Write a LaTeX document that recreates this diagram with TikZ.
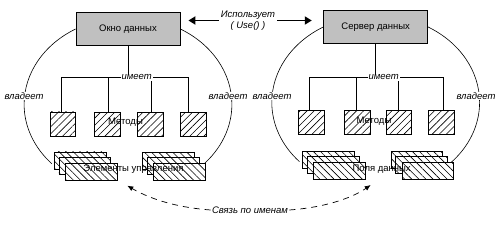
\documentclass[tikz,border=0pt]{standalone}
\usepackage{fontspec}
\setmainfont{Liberation Sans}
\usetikzlibrary{arrows.meta,patterns.meta}
\definecolor{boxgray}{HTML}{C0C0C0}
\begin{document}
\begin{tikzpicture}[x=1pt,y=-1pt, line width=0.8pt,
  font=\fontsize{9.5}{10.7}\selectfont,
  mainbox/.style={draw, fill=boxgray, minimum width=104pt, minimum height=33.5pt, inner sep=0pt},
  hsq/.style={draw, anchor=north west, preaction={fill=white}, pattern={Lines[angle=45,distance=5pt,line width=0.6pt]}, minimum width=25.5pt, minimum height=24pt, inner sep=0pt},
  hst/.style={draw, anchor=north west, preaction={fill=white}, pattern={Lines[angle=-45,distance=5pt,line width=0.6pt]}, minimum width=51.7pt, minimum height=17.5pt, inner sep=0pt},
  lbl/.style={font=\fontsize{9.5}{10.7}\selectfont\itshape, fill=white, inner sep=1pt},
  txt/.style={inner sep=0pt},
  ownarc/.style={line width=0.6pt},
  bigarr/.style={line width=1.8pt, -{Triangle[length=7pt,width=8pt]}},
  linkarr/.style={line width=0.7pt, dash pattern=on 6pt off 5pt, -{Latex[length=6pt,width=5pt]}}
]
\fill[white] (0,0) rectangle (504,227);
\useasboundingbox (0,0) rectangle (504,227);

% ---------- boxes
\node[mainbox] (Lbox) at (128,29) {Окно данных};
\node[mainbox] (Rbox) at (375.7,27) {Сервер данных};

% ---------- ownership arcs
\draw[ownarc] (Lbox.west) arc[start angle=-120, end angle=-223, x radius=103, y radius=87];
\draw[ownarc] (Lbox.east) arc[start angle=-60, end angle=45, x radius=103, y radius=87];
\draw[ownarc] (Rbox.west) arc[start angle=-120, end angle=-223, x radius=103, y radius=87];
\draw[ownarc] (Rbox.east) arc[start angle=-60, end angle=45, x radius=103, y radius=87];

% ---------- left hierarchy
\coordinate (Lbar) at (128,77.3);
\coordinate (Lb1) at (61.7,77.3);
\coordinate (Lb2) at (108.3,77.3);
\coordinate (Lb3) at (151.7,77.3);
\coordinate (Lb4) at (188.3,77.3);
\draw (Lbox.south) -- (Lbox.south |- Lbar);
\draw (Lb1) -- (Lb4);
\node[hsq] (Ls1) at (50,111.7) {};
\node[hsq] (Ls2) at (94.3,111.7) {};
\node[hsq] (Ls3) at (137.3,111.7) {};
\node[hsq] (Ls4) at (180,111.7) {};
\foreach \i in {1,2,3,4} \draw (Lb\i) -- (Lb\i |- Ls\i.north);
\node[lbl] (Lhas) at (136.7,77.3) {имеет};

% ---------- right hierarchy
\coordinate (Rbar) at (376,77.3);
\coordinate (Rb1) at (309.3,77.3);
\coordinate (Rb2) at (356.3,77.3);
\coordinate (Rb3) at (398.7,77.3);
\coordinate (Rb4) at (443.7,77.3);
\draw (Rbox.south) -- (Rbox.south |- Rbar);
\draw (Rb1) -- (Rb4);
\node[hsq] (Rs1) at (298.3,110.5) {};
\node[hsq] (Rs2) at (344,110.5) {};
\node[hsq] (Rs3) at (385.7,110.5) {};
\node[hsq] (Rs4) at (428.3,110.5) {};
\foreach \i in {1,2,3,4} \draw (Rb\i) -- (Rb\i |- Rs\i.north);
\node[lbl] (Rhas) at (383.7,77.3) {имеет};

% ---------- stacks
\foreach \n/\x/\y in {La/54/151.7, Lb/142.3/151.7, Ra/302.3/151, Rb/390.7/151} {
  \node[hst] (\n1) at (\x,\y) {};
  \node[hst] (\n2) at (\x+4.5,\y+5) {};
  \node[hst] (\n3) at (\x+11,\y+11) {};
}

% ---------- texts
\node[txt] (Lmeth) at (125.5,121.7) {Методы};
\node[txt] (Rmeth) at (374,121.2) {Методы};
\node[txt] (Lctl) at (133.5,169.3) {Элементы управления};
\node[txt] (Rfld) at (381.7,169) {Поля данных};

\node[lbl] (Lown1) at (24,96) {владеет};
\node[lbl] (Lown2) at (228,96) {владеет};
\node[lbl] (Rown1) at (272,96) {владеет};
\node[lbl] (Rown2) at (476,96) {владеет};

% ---------- uses
\node[lbl, align=center, inner sep=2pt] (use) at (248,20.5) {Использует\\( Use() )};
\draw[bigarr, shorten >=8pt] (use.west) -- (use.west -| Lbox.east);
\draw[bigarr, shorten >=11.5pt] (use.east) -- (use.east -| Rbox.west);

% ---------- link by names
\node[lbl, fill=none] (link) at (250,210) {Связь по именам};
\coordinate (tipL) at (127.3,185.7);
\coordinate (tipR) at (370.7,185);
\draw[linkarr] (link.west) .. controls (170,207) and (145,196) .. (tipL);
\draw[linkarr] (link.east) .. controls (330,207) and (355,196) .. (tipR);
\end{tikzpicture}
\end{document}
